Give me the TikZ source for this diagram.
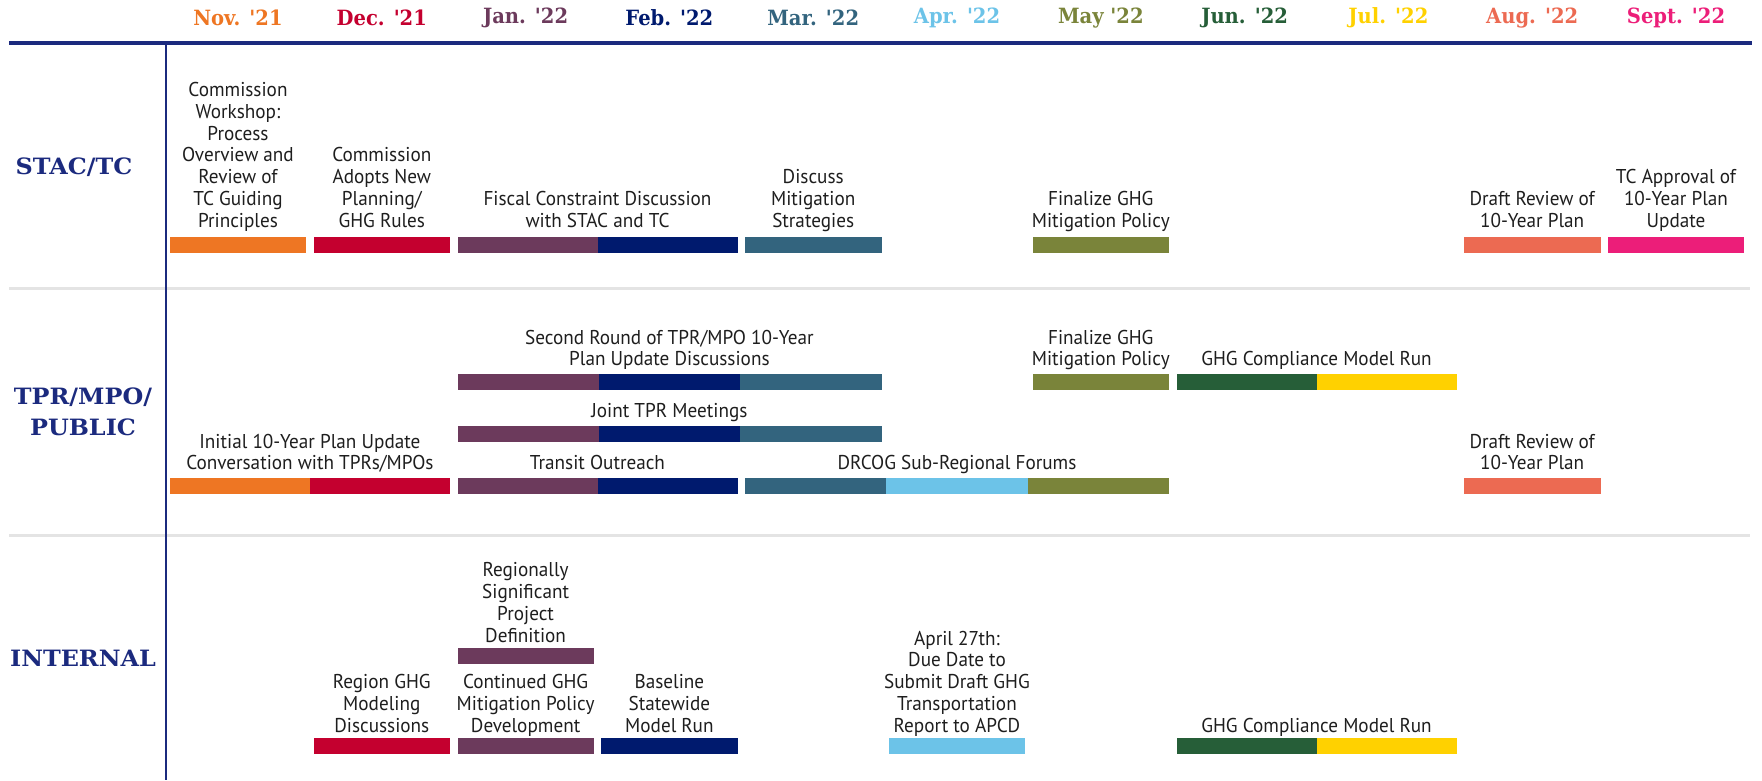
\documentclass[tikz,border=0pt]{standalone}
\usepackage{fontspec}
\setmainfont{PT Sans}[FakeStretch=0.96]
\newfontfamily\monthfont{DejaVu Serif}[FakeStretch=0.93]
\newfontfamily\rowfont{DejaVu Serif}[FakeStretch=1.06]
\definecolor{cNov}{HTML}{EE7623}
\definecolor{cDec}{HTML}{C4002F}
\definecolor{cJan}{HTML}{6C3A5C}
\definecolor{cFeb}{HTML}{001A6E}
\definecolor{cMar}{HTML}{33647E}
\definecolor{cApr}{HTML}{6CC3E8}
\definecolor{cMay}{HTML}{7A843A}
\definecolor{cJun}{HTML}{265E38}
\definecolor{cJul}{HTML}{FFD100}
\definecolor{cAug}{HTML}{EC6A52}
\definecolor{cSep}{HTML}{EC1E79}
\definecolor{navy}{HTML}{1B2A7E}
\definecolor{sep}{HTML}{E4E4E4}
\definecolor{txt}{HTML}{1E1E1E}
\newcommand\gbar[4]{%
  \pgfmathsetmacro\bx{170+143.8*#1}%
  \pgfmathsetmacro\bw{(143.8*(#2-1)+136)/#2}%
  \foreach \cc [count=\k from 0] in {#4} {%
    \fill[\cc] ({\bx+\k*\bw},#3) rectangle ++(\bw+0.3,16);%
  }%
}
\tikzset{
  lbl/.style={anchor=south, inner sep=0pt, align=center, text depth=0pt,
    text=txt, font=\fontsize{20}{21.8}\selectfont},
  month/.style={inner sep=0pt, font=\monthfont\bfseries\fontsize{21}{24}\selectfont},
  rowlbl/.style={inner sep=0pt, align=center, text=navy,
    font=\rowfont\bfseries\fontsize{22.5}{31}\selectfont}
}
\begin{document}
\begin{tikzpicture}[x=1pt,y=-1pt]
\useasboundingbox (0,0) rectangle (1762,780);
% header months
\foreach \m/\c [count=\i from 0] in {Nov. '21/cNov, Dec. '21/cDec, Jan. '22/cJan, Feb. '22/cFeb, Mar. '22/cMar, Apr. '22/cApr, May '22/cMay, Jun. '22/cJun, Jul. '22/cJul, Aug. '22/cAug, Sept. '22/cSep}
  \node[month, text=\c] (m\i) at ({238+143.8*\i},18) {\m};
% grid lines
\draw[navy, line width=4.5pt] (9,43) -- (1752,43);
\draw[sep, line width=3pt] (9,288) -- (1750,288);
\draw[sep, line width=3pt] (9,535) -- (1750,535);
\draw[navy, line width=2.2pt] (166,43) -- (166,780);
% row labels
\node[rowlbl] (rstac) at (74,167) {STAC/TC};
\node[rowlbl] (rtpr) at (83,412) {TPR/MPO/\\PUBLIC};
\node[rowlbl] (rint) at (83,658) {INTERNAL};
% ---- STAC/TC row
\gbar{0}{1}{237}{cNov}
\gbar{1}{1}{237}{cDec}
\gbar{2}{2}{237}{cJan,cFeb}
\gbar{4}{1}{237}{cMar}
\gbar{6}{1}{237}{cMay}
\gbar{9}{1}{237}{cAug}
\gbar{10}{1}{237}{cSep}
\node[lbl] (s1) at (238,227.5) {Commission\\Workshop:\\Process\\Overview and\\Review of\\TC Guiding\\Principles};
\node[lbl] (s2) at (381.8,227.5) {Commission\\Adopts New\\Planning/\\GHG Rules};
\node[lbl] (s3) at (597.5,227.5) {Fiscal Constraint Discussion\\with STAC and TC};
\node[lbl] (s4) at (813.2,227.5) {Discuss\\Mitigation\\Strategies};
\node[lbl] (s5) at (1100.8,227.5) {Finalize GHG\\Mitigation Policy};
\node[lbl] (s6) at (1532.2,227.5) {Draft Review of\\10-Year Plan};
\node[lbl] (s7) at (1676,227.5) {TC Approval of\\10-Year Plan\\Update};
% ---- TPR/MPO/PUBLIC row
\gbar{2}{3}{374}{cJan,cFeb,cMar}
\gbar{6}{1}{374}{cMay}
\gbar{7}{2}{374}{cJun,cJul}
\gbar{2}{3}{426}{cJan,cFeb,cMar}
\gbar{0}{2}{478}{cNov,cDec}
\gbar{2}{2}{478}{cJan,cFeb}
\gbar{4}{3}{478}{cMar,cApr,cMay}
\gbar{9}{1}{478}{cAug}
\node[lbl] (t1) at (669.4,366) {Second Round of TPR/MPO 10-Year\\Plan Update Discussions};
\node[lbl] (t2) at (1100.8,366) {Finalize GHG\\Mitigation Policy};
\node[lbl] (t3) at (1316.5,366) {GHG Compliance Model Run};
\node[lbl] (t4) at (669.4,418) {Joint TPR Meetings};
\node[lbl] (t5) at (309.9,470) {Initial 10-Year Plan Update\\Conversation with TPRs/MPOs};
\node[lbl] (t6) at (597.5,470) {Transit Outreach};
\node[lbl] (t7) at (957,470) {DRCOG Sub-Regional Forums};
\node[lbl] (t8) at (1532.2,470) {Draft Review of\\10-Year Plan};
% ---- INTERNAL row
\gbar{2}{1}{648}{cJan}
\gbar{1}{1}{738}{cDec}
\gbar{2}{1}{738}{cJan}
\gbar{3}{1}{738}{cFeb}
\gbar{5}{1}{738}{cApr}
\gbar{7}{2}{738}{cJun,cJul}
\node[lbl] (i1) at (525.6,642.5) {Regionally\\Significant\\Project\\Definition};
\node[lbl] (i2) at (381.8,732.5) {Region GHG\\Modeling\\Discussions};
\node[lbl] (i3) at (525.6,732.5) {Continued GHG\\Mitigation Policy\\Development};
\node[lbl] (i4) at (669.4,732.5) {Baseline\\Statewide\\Model Run};
\node[lbl] (i5) at (957,732.5) {April 27th:\\Due Date to\\Submit Draft GHG\\Transportation\\Report to APCD};
\node[lbl] (i6) at (1316.5,732.5) {GHG Compliance Model Run};
\end{tikzpicture}
\end{document}
